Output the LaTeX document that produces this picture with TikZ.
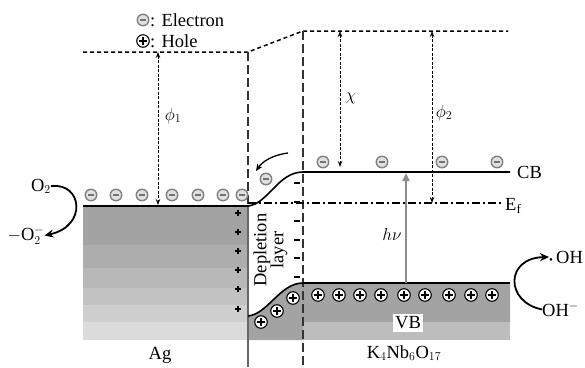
\documentclass[tikz,border=0pt]{standalone}
\usepackage{fontspec}
\setmainfont{Liberation Serif}
\usetikzlibrary{arrows.meta}
\begin{document}
\begin{tikzpicture}[x=1pt,y=-1pt,
  lbl/.style={font=\fontsize{18.5}{19}\selectfont, inner sep=0pt},
  elec/.style={circle, draw=black!50, fill=black!12, line width=1.4pt, minimum size=11.5pt, inner sep=0pt,
    path picture={\draw[black!55, line width=1.4pt] ([xshift=-3pt]path picture bounding box.center) -- ([xshift=3pt]path picture bounding box.center);}},
  hole/.style={circle, draw=black, fill=white, line width=1.1pt, minimum size=12.5pt, inner sep=0pt,
    path picture={\draw[black, line width=1.1pt] ([xshift=-4pt]path picture bounding box.center) -- ([xshift=4pt]path picture bounding box.center)
      ([yshift=-4pt]path picture bounding box.center) -- ([yshift=4pt]path picture bounding box.center);}},
  vac/.style={dash pattern=on 4pt off 3pt, line width=1.5pt},
  longdash/.style={dash pattern=on 9pt off 4pt, line width=1.3pt, black!80},
  meas/.style={{Stealth[length=6pt,width=4.5pt]}-{Stealth[length=6pt,width=4.5pt]}, dash pattern=on 3pt off 1.5pt, line width=0.9pt},
  band/.style={line width=1.6pt},
  reactarrow/.style={-{Stealth[length=9pt,width=8pt]}, line width=1.8pt},
  chg/.style={line width=1.5pt}
]
\useasboundingbox (0,0) rectangle (585,367);

% ---- Ag block (banded gradient)
\fill[black!36] (83,206) rectangle (248,245);
\fill[black!32] (83,245) rectangle (248,268);
\fill[black!28] (83,268) rectangle (248,288);
\fill[black!24] (83,288) rectangle (248,305);
\fill[black!19] (83,305) rectangle (248,322);
\fill[black!14] (83,322) rectangle (248,340);

% ---- K4Nb6O17 valence region
\fill[black!36] (248,316) .. controls (268,314) and (280,283) .. (303,283) -- (510,283) -- (510,322) -- (303,322) -- (303,340) -- (248,340) -- cycle;
\fill[black!26] (303,322) rectangle (510,340);

% ---- coordinates
\coordinate (vl1) at (83,52);
\coordinate (vk1) at (248,52);
\coordinate (vk2) at (303,31);
\coordinate (vr) at (508,31);
\coordinate (agL) at (83,206);
\coordinate (agR) at (248,206);
\coordinate (cb0) at (303,172);
\coordinate (cb1) at (510,172);
\coordinate (vb0) at (303,283);
\coordinate (vb1) at (510,283);
\coordinate (vbL) at (248,316);
\coordinate (ef0) at (248,203);
\coordinate (ef1) at (502,203);
\coordinate (bot1) at (248,367);
\coordinate (bot2) at (303,367);
\coordinate (m1t) at (158,52);
\coordinate (m1b) at (158,205);
\coordinate (m2t) at (340,31);
\coordinate (m2b) at (340,167);
\coordinate (m3t) at (432,31);
\coordinate (m3b) at (432,203);
\coordinate (hvb) at (406,283);
\coordinate (hvt) at (406,173);

% ---- vacuum level
\draw[vac] (vl1) -- (vk1) -- (vk2) -- (vr);

% ---- interface lines
\draw[longdash] (vk1) -- (agR);
\draw[black!60, line width=1.4pt] (agR) -- (bot1);
\draw[longdash] (vk2) -- (bot2);

% ---- Fermi level
\draw[line width=1.2pt, dash pattern=on 8pt off 3pt on 2pt off 3pt] (ef0) -- (ef1);

% ---- bands
\draw[band] (agL) -- (agR);
\draw[band] (agR) .. controls (268,204) and (278,172) .. (cb0) -- (cb1);
\draw[band] (vbL) .. controls (268,314) and (280,283) .. (vb0) -- (vb1);

% ---- measurement arrows
\draw[meas] (m1t) -- (m1b);
\draw[meas] (m2t) -- (m2b);
\draw[meas] (m3t) -- (m3b);
\draw[black!45, line width=2pt, -{Triangle[length=8pt,width=7pt]}] (hvb) -- (hvt);

\node[lbl] (phi1) at (173,116) {$\phi_1$};
\node[lbl] (chi) at (351,98) {$\chi$};
\node[lbl] (phi2) at (444,113) {$\phi_2$};
\node[lbl] (hv) at (392,234) {$h\nu$};

% ---- electrons
\foreach \x [count=\i] in {91,116,142,172,198,223,242}
  \node[elec] (ea\i) at (\x,195) {};
\node[elec] (ed) at (266,179) {};
\foreach \x [count=\i] in {323,382,442,497}
  \node[elec] (ec\i) at (\x,162) {};

% ---- holes
\foreach \x [count=\i] in {318,339,360,381,404,425,449,471,492}
  \node[hole] (hv\i) at (\x,295) {};
\node[hole] (hd1) at (261,322) {};
\node[hole] (hd2) at (277,311) {};
\node[hole] (hd3) at (293,298) {};

% ---- charges
\foreach \y in {213,232,251,270,289,309}
  \draw[chg] (235,\y) -- (241,\y) (238,\y-3) -- (238,\y+3);
\foreach \y in {183,202,221,240,258,277}
  \draw[chg] (294,\y) -- (300,\y);

% ---- depletion layer label
\node[lbl, rotate=90, align=center, font=\fontsize{18.5}{17}\selectfont] (dep) at (270.5,250) {Depletion\\layer};

% ---- curved arrow at interface
\coordinate (ca0) at (288,153);
\coordinate (ca1) at (256,171);
\draw[-{Stealth[length=7pt,width=6pt]}, line width=1.3pt] (ca0) .. controls (272,155) and (262,162) .. (ca1);

% ---- labels
\node[lbl, anchor=base west] (cbl) at (517,178) {CB};
\node[lbl, anchor=base west] (efl) at (505,210) {E$_\mathrm{f}$};
\node[lbl, fill=white, inner sep=2.5pt] (vbl) at (408,323) {VB};
\node[lbl, anchor=base] (agl) at (160,359) {Ag};
\node[lbl, anchor=base] (knl) at (404,358) {K$_4$Nb$_6$O$_{17}$};

% ---- O2 reaction
\node[lbl, anchor=base] (o2) at (41,191) {O$_2$};
\node[lbl, anchor=base] (o2m) at (26,240) {$-$O$_2^-$};
\draw[reactarrow] (o2.east) .. controls (82,182) and (88,226) .. (o2m.east);

% ---- OH reaction
\node[lbl, anchor=base west] (ohm) at (542,316) {OH$^-$};
\node[lbl, anchor=base west] (oh) at (549,263) {{\fontsize{11}{11}\selectfont •}\,OH};
\draw[reactarrow] (ohm.west) .. controls (505,302) and (505,258) .. (oh.west);

% ---- legend
\node[elec] (le) at (143,20) {};
\node[lbl, anchor=base west] (let) at (150,26) {: Electron};
\node[hole] (lh) at (143,41) {};
\node[lbl, anchor=base west] (lht) at (150,47) {: Hole};
\end{tikzpicture}
\end{document}
